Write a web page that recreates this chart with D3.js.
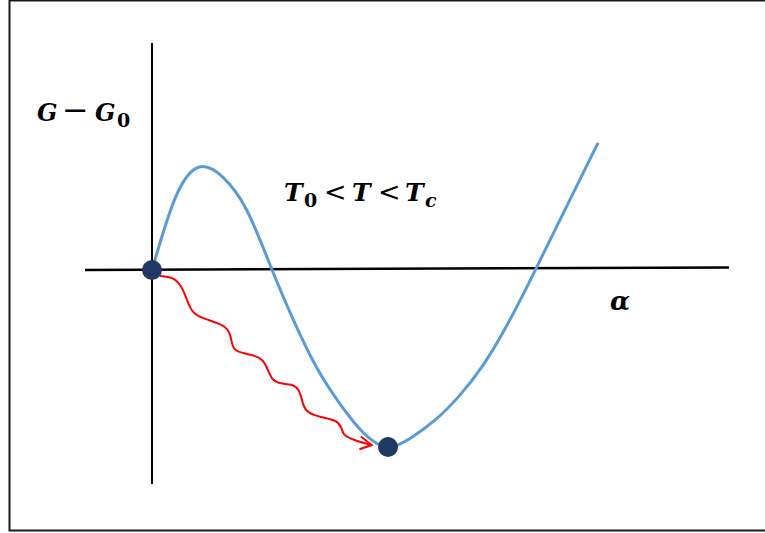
<!DOCTYPE html>
<html>
<head>
<meta charset="utf-8">
<script src="https://cdn.jsdelivr.net/npm/d3@7"></script>
<style>
  html, body { margin: 0; padding: 0; background: #fff; }
  svg { display: block; }
  .math { font-family: "DejaVu Serif", serif; font-weight: bold; font-style: italic; fill: #000; }
  .op { font-family: "DejaVu Sans", sans-serif; font-style: normal; font-weight: normal; }
  .sub { font-style: normal; }
</style>
</head>
<body>
<svg id="chart"></svg>
<script>
const width = 765, height = 533;

// free energy curve G - G0 vs alpha (alpha = 1 at the minimum, G = -1 there)
const curveAlpha = [0, 0.1, 0.2, 0.3, 0.4, 0.5, 0.6, 0.7, 0.8, 0.9, 1.0, 1.1, 1.2, 1.3, 1.4, 1.5, 1.6, 1.7, 1.8, 1.89];
const curveG     = [0, 0.412, 0.582, 0.525, 0.342, 0.030, -0.285, -0.557, -0.763, -0.925, -1.0, -0.946, -0.847, -0.714, -0.543, -0.322, -0.066, 0.206, 0.475, 0.718];

// wavy relaxation path from the origin to the minimum
const waveAlpha = [0.034, 0.090, 0.131, 0.161, 0.195, 0.288, 0.331, 0.339, 0.360, 0.428, 0.470, 0.492, 0.508, 0.542, 0.597, 0.627, 0.641, 0.661, 0.712, 0.784, 0.805, 0.809, 0.852, 0.931];
const waveG     = [-0.034, -0.038, -0.096, -0.226, -0.266, -0.301, -0.339, -0.435, -0.463, -0.480, -0.503, -0.565, -0.621, -0.644, -0.644, -0.678, -0.774, -0.808, -0.831, -0.848, -0.893, -0.932, -0.960, -0.989];

// arrow head: upper arm, tip, lower arm
const arrowAlpha = [0.885, 0.931, 0.879];
const arrowG     = [-0.941, -0.989, -1.013];

// the two states marked with dots
const dotAlpha = [0, 1];
const dotG     = [0, -1];

// axis extents
const axisAlphaRange = [-0.284, 2.445];
const axisAlphaTilt  = [0, 0.014];
const axisGRange     = [1.282, -1.209];

const svg = d3.select("#chart")
    .attr("width", width)
    .attr("height", height);

const x = d3.scaleLinear().domain([0, 1]).range([152, 388]);
const y = d3.scaleLinear().domain([-1, 0]).range([447, 270]);

// frame
svg.append("rect")
    .attr("x", 9.5)
    .attr("y", 0.5)
    .attr("width", 800)
    .attr("height", 530)
    .attr("fill", "none")
    .attr("stroke", "#1a1a1a")
    .attr("stroke-width", 2);

// axes
svg.append("line")
    .attr("x1", x(axisAlphaRange[0])).attr("y1", y(axisAlphaTilt[0]))
    .attr("x2", x(axisAlphaRange[1])).attr("y2", y(axisAlphaTilt[1]))
    .attr("stroke", "#000")
    .attr("stroke-width", 2.5);

svg.append("line")
    .attr("x1", x(0)).attr("y1", y(axisGRange[0]))
    .attr("x2", x(0)).attr("y2", y(axisGRange[1]))
    .attr("stroke", "#000")
    .attr("stroke-width", 2);

// free energy curve (evenly spaced alpha, so the natural spline behaves)
const curvePts = curveAlpha.map((a, i) => [a, curveG[i]]);
const smooth = d3.line()
    .x(d => x(d[0]))
    .y(d => y(d[1]))
    .curve(d3.curveNatural);

svg.append("path")
    .attr("d", smooth(curvePts))
    .attr("fill", "none")
    .attr("stroke", "#5b9bd5")
    .attr("stroke-width", 3);

// wavy arrow
const wavePts = waveAlpha.map((a, i) => [a, waveG[i]]);
svg.append("path")
    .attr("d", d3.line().x(d => x(d[0])).y(d => y(d[1])).curve(d3.curveBasis)(wavePts))
    .attr("fill", "none")
    .attr("stroke", "#ff0000")
    .attr("stroke-width", 2);

const arrowPts = arrowAlpha.map((a, i) => [a, arrowG[i]]);
svg.append("path")
    .attr("d", d3.line().x(d => x(d[0])).y(d => y(d[1]))(arrowPts))
    .attr("fill", "none")
    .attr("stroke", "#ff0000")
    .attr("stroke-width", 2);

// dots
svg.selectAll("circle.state")
    .data(dotAlpha.map((a, i) => [a, dotG[i]]))
    .enter()
    .append("circle")
    .attr("class", "state")
    .attr("cx", d => x(d[0]))
    .attr("cy", d => y(d[1]))
    .attr("r", 10)
    .attr("fill", "#203864");

// labels
const yLabel = svg.append("text").attr("class", "math").attr("font-size", 24).attr("y", 121);
yLabel.append("tspan").attr("x", 37).text("G");
yLabel.append("tspan").attr("x", 62).attr("class", "op").attr("font-size", 32).text("−");
yLabel.append("tspan").attr("x", 95).text("G");
yLabel.append("tspan").attr("x", 117).attr("y", 127).attr("class", "sub").attr("font-size", 19).text("0");

const tLabel = svg.append("text").attr("class", "math").attr("font-size", 25).attr("y", 201);
tLabel.append("tspan").attr("x", 284).text("T");
tLabel.append("tspan").attr("x", 304).attr("y", 207).attr("class", "sub").attr("font-size", 19).text("0");
tLabel.append("tspan").attr("x", 324).attr("y", 201).attr("class", "op").attr("font-size", 27).text("<");
tLabel.append("tspan").attr("x", 352).text("T");
tLabel.append("tspan").attr("x", 378).attr("class", "op").attr("font-size", 27).text("<");
tLabel.append("tspan").attr("x", 405).text("T");
tLabel.append("tspan").attr("x", 425).attr("y", 207).attr("font-size", 19).text("c");

svg.append("text")
    .attr("class", "math")
    .attr("font-size", 26)
    .attr("x", 610)
    .attr("y", 310)
    .text("α");
</script>
</body>
</html>
